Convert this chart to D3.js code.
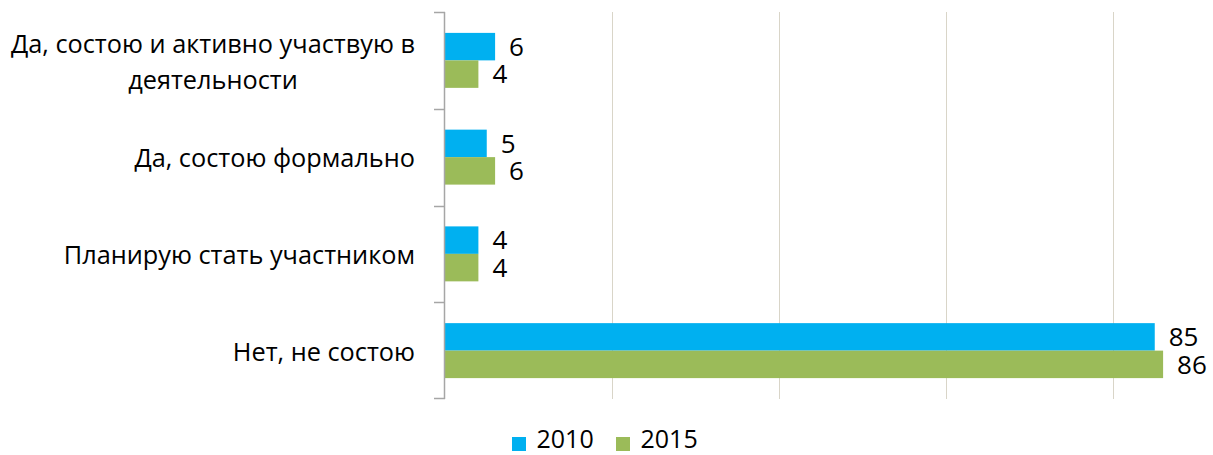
<!DOCTYPE html>
<html>
<head>
<meta charset="utf-8">
<script src="https://cdn.jsdelivr.net/npm/d3@7"></script>
<style>
  html, body { margin: 0; padding: 0; background: #fff; }
  svg { display: block; font-family: "Open Sans", sans-serif; }
</style>
</head>
<body>
<svg id="chart" width="1213" height="455"></svg>
<script>
// Membership survey: share of respondents, %
const categories = [
  ["Да, состою и активно участвую в", "деятельности"],
  ["Да, состою формально"],
  ["Планирую стать участником"],
  ["Нет, не состою"]
];
const seriesNames = ["2010", "2015"];
const values2010 = [6, 5, 4, 85];
const values2015 = [4, 6, 4, 86];
const gridTicks = [20, 40, 60, 80];

const colors = { "2010": "#00B0F0", "2015": "#9BBB59" };
const seriesValues = { "2010": values2010, "2015": values2015 };

const svg = d3.select("#chart");
const plot = { left: 445, top: 12, bottom: 399 };

const x = d3.scaleLinear().domain([0, 100]).range([plot.left, plot.left + 835]);
const y = d3.scaleBand()
  .domain(d3.range(categories.length))
  .range([plot.top, plot.bottom])
  .paddingInner(0).paddingOuter(0);
const inner = d3.scaleBand()
  .domain(seriesNames)
  .range([0, y.bandwidth()])
  .paddingInner(0)
  .paddingOuter(0.76);

// vertical gridlines
svg.append("g")
  .selectAll("line")
  .data(gridTicks)
  .join("line")
  .attr("x1", d => Math.round(x(d)) + 0.5)
  .attr("x2", d => Math.round(x(d)) + 0.5)
  .attr("y1", plot.top)
  .attr("y2", plot.bottom)
  .attr("stroke", "#D9D5C8")
  .attr("stroke-width", 1);

// bars
const groups = svg.append("g")
  .selectAll("g")
  .data(categories.map((c, i) => i))
  .join("g")
  .attr("transform", i => `translate(0,${y(i)})`);

groups.selectAll("rect")
  .data(i => seriesNames.map(s => ({ s, v: seriesValues[s][i] })))
  .join("rect")
  .attr("x", x(0))
  .attr("y", d => inner(d.s))
  .attr("width", d => x(d.v) - x(0))
  .attr("height", inner.bandwidth())
  .attr("fill", d => colors[d.s]);

groups.selectAll("text.val")
  .data(i => seriesNames.map(s => ({ s, v: seriesValues[s][i] })))
  .join("text")
  .attr("class", "val")
  .attr("x", d => x(d.v) + 14)
  .attr("y", d => inner(d.s) + inner.bandwidth() / 2)
  .attr("dy", "0.36em")
  .attr("font-size", 26)
  .attr("fill", "#000")
  .text(d => d.v);

// category axis with tick marks between categories
const axis = svg.append("g");
axis.append("line")
  .attr("x1", plot.left - 0.5).attr("x2", plot.left - 0.5)
  .attr("y1", plot.top).attr("y2", plot.bottom)
  .attr("stroke", "#A6A6A6").attr("stroke-width", 1.5);
axis.selectAll("line.tick")
  .data(d3.range(categories.length + 1))
  .join("line")
  .attr("class", "tick")
  .attr("x1", plot.left - 11).attr("x2", plot.left)
  .attr("y1", i => i < categories.length ? Math.round(y(i)) + 0.5 : plot.bottom - 0.5)
  .attr("y2", i => i < categories.length ? Math.round(y(i)) + 0.5 : plot.bottom - 0.5)
  .attr("stroke", "#A6A6A6").attr("stroke-width", 1.5);

// category labels (multi-line labels are centred under the widest line)
const labelRight = 415;
const lineH = 36.5;
categories.forEach((lines, i) => {
  const cy = y(i) + y.bandwidth() / 2 + (lines.length > 1 ? 1.5 : 1);
  const g = svg.append("g");
  const texts = lines.map((t, k) => g.append("text")
    .attr("font-size", 25.3)
    .attr("fill", "#000")
    .attr("y", cy + (k - (lines.length - 1) / 2) * lineH)
    .attr("dy", "0.36em")
    .text(t));
  const widths = texts.map(t => t.node().getComputedTextLength());
  const maxW = d3.max(widths);
  const center = labelRight - maxW / 2;
  texts.forEach(t => t.attr("x", center).attr("text-anchor", "middle"));
});

// legend
const legend = svg.append("g").attr("transform", "translate(512,444)");
const legendX = [0, 104];
seriesNames.forEach((s, k) => {
  const lg = legend.append("g").attr("transform", `translate(${legendX[k]},0)`);
  lg.append("rect").attr("x", 0).attr("y", -7).attr("width", 14).attr("height", 14).attr("fill", colors[s]);
  lg.append("text").attr("x", 24.5).attr("y", 4)
    .attr("font-size", 25).attr("fill", "#000").text(s);
});
</script>
</body>
</html>
